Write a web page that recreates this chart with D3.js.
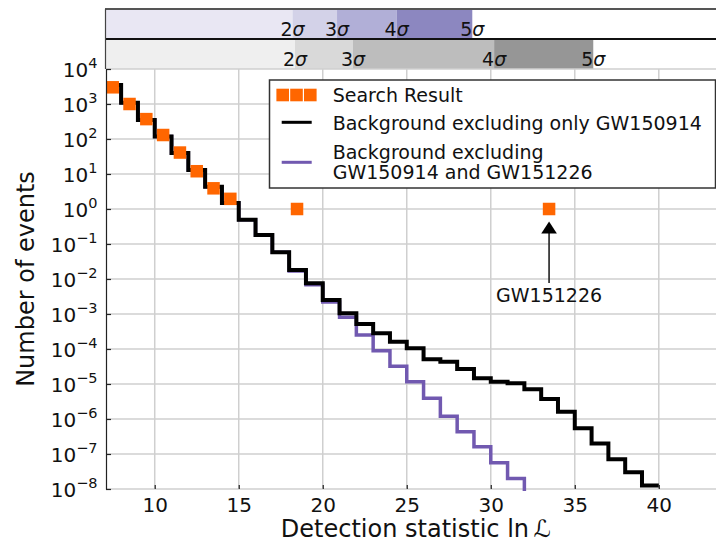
<!DOCTYPE html>
<html>
<head>
<meta charset="utf-8">
<script src="https://cdn.jsdelivr.net/npm/d3@7"></script>
<style>
  body { margin: 0; background: #fff; }
  svg { display: block; font-family: "DejaVu Sans", sans-serif; }
</style>
</head>
<body>
<svg id="chart" width="716" height="543"></svg>
<script>
// ---- data ----------------------------------------------------------------
// Background histogram excluding only GW150914: bin left edges and counts
const bgAllEdges = [7, 8, 9, 10, 11, 12, 13, 14, 15, 16, 17, 18, 19, 20, 21, 22, 23,
                    24, 25, 26, 27, 28, 29, 30, 31, 32, 33, 34, 35, 36, 37, 38, 39, 40];
const bgAllCounts = [3470, 1090, 350, 117, 40, 13, 4.3, 1.48, 0.49, 0.18, 0.058, 0.018,
                     0.0075, 0.0025, 0.00105, 5.2e-4, 2.8e-4, 1.6e-4, 1.05e-4, 5.1e-5,
                     4.3e-5, 2.7e-5, 1.46e-5, 1.16e-5, 1.05e-5, 7.1e-6, 3.7e-6, 1.6e-6,
                     5.4e-7, 2.0e-7, 7.1e-8, 3.0e-8, 1.26e-8];
// Background excluding GW150914 and GW151226 (last bin empty)
const bgBothEdges = [7, 8, 9, 10, 11, 12, 13, 14, 15, 16, 17, 18, 19, 20, 21, 22, 23,
                     24, 25, 26, 27, 28, 29, 30, 31, 32, 33];
const bgBothCounts = [3470, 1090, 350, 117, 40, 13, 4.3, 1.48, 0.49, 0.18, 0.058, 0.017,
                      0.0069, 0.0022, 8.1e-4, 2.5e-4, 8.9e-5, 3.2e-5, 1.16e-5, 3.9e-6,
                      1.2e-6, 4.3e-7, 1.6e-7, 5.6e-8, 2.0e-8, 0];
// Search result (foreground events)
const searchStat = [7.5, 8.5, 9.5, 10.5, 11.5, 12.5, 13.5, 14.5, 18.47, 33.47];
const searchCount = [3000, 1000, 370, 130, 41, 12, 3.9, 1.95, 1, 1];

// Significance thresholds in ln L
const sigmaLabels = ["2", "3", "4", "5"];
const sigmaBoth = [18.2, 20.85, 24.4, 28.9];   // upper band (purple)
const sigmaAll = [18.35, 21.8, 30.2, 36.1];    // lower band (grey)
const purpleShades = ["#e9e7f3", "#d3d2e8", "#b1afd7", "#8c87c0"];
const greyShades = ["#efefef", "#d9d9d9", "#bdbdbd", "#969696"];

const xTicks = [10, 15, 20, 25, 30, 35, 40];
const yExponents = [-8, -7, -6, -5, -4, -3, -2, -1, 0, 1, 2, 3, 4];

// ---- layout --------------------------------------------------------------
const L = 106, R = 726, T = 69, B = 489;
const svg = d3.select("#chart");

const x = d3.scaleLinear().domain([7.1, 44]).range([L, R]);
const y = d3.scaleLog().domain([1e-8, 1e4]).range([B, T]);
const yOf = v => (v > 0 ? y(v) : B + 20);

svg.append("defs").append("clipPath").attr("id", "plotClip")
  .append("rect").attr("x", L).attr("y", T - 2).attr("width", R - L).attr("height", B - T + 4);

// ---- significance bands --------------------------------------------------
function band(y0, h, thresholds, shades) {
  const g = svg.append("g");
  const starts = [x.domain()[0]].concat(thresholds);
  thresholds.forEach((t, i) => {
    g.append("rect")
      .attr("x", x(starts[i])).attr("y", y0)
      .attr("width", x(t) - x(starts[i])).attr("height", h)
      .attr("fill", shades[i]);
  });
  thresholds.forEach((t, i) => {
    const txt = g.append("text")
      .attr("x", x(t)).attr("y", y0 + h - 3)
      .attr("text-anchor", "middle")
      .attr("font-size", 19).attr("fill", "#111");
    txt.append("tspan").text(sigmaLabels[i]);
    txt.append("tspan").attr("font-style", "italic").text("σ");
  });
  return g;
}
band(9, 30, sigmaBoth, purpleShades);
band(39, 30, sigmaAll, greyShades);
svg.append("line").attr("x1", L - 1).attr("x2", 716).attr("y1", 9).attr("y2", 9)
  .attr("stroke", "#555").attr("stroke-width", 2);
svg.append("line").attr("x1", L - 1).attr("x2", 716).attr("y1", 39).attr("y2", 39)
  .attr("stroke", "#111").attr("stroke-width", 2);
svg.append("line").attr("x1", L - 0.5).attr("x2", L - 0.5).attr("y1", 9).attr("y2", 69)
  .attr("stroke", "#444").attr("stroke-width", 1.2);

// ---- grid ----------------------------------------------------------------
const grid = svg.append("g").attr("stroke", "#cfcfcf").attr("stroke-width", 1.5);
xTicks.forEach(t => grid.append("line")
  .attr("x1", x(t)).attr("x2", x(t)).attr("y1", T).attr("y2", B));
yExponents.forEach(e => grid.append("line")
  .attr("x1", L).attr("x2", R).attr("y1", y(Math.pow(10, e))).attr("y2", y(Math.pow(10, e))));

// ---- step lines ----------------------------------------------------------
function stepPoints(edges, counts) {
  const pts = counts.map((c, i) => [edges[i], c]);
  pts.push([edges[counts.length], counts[counts.length - 1]]);
  return pts;
}
const step = d3.line().x(d => x(d[0])).y(d => yOf(d[1])).curve(d3.curveStepAfter);
const plot = svg.append("g").attr("clip-path", "url(#plotClip)");

plot.append("path").datum(stepPoints(bgBothEdges, bgBothCounts))
  .attr("d", step).attr("fill", "none")
  .attr("stroke", "#7159b0").attr("stroke-width", 3.5);
plot.append("path").datum(stepPoints(bgAllEdges, bgAllCounts))
  .attr("d", step).attr("fill", "none")
  .attr("stroke", "#000").attr("stroke-width", 4);

// ---- search result markers ----------------------------------------------
const sq = 12.5;
plot.selectAll("rect.ev").data(searchStat).join("rect").attr("class", "ev")
  .attr("x", (d) => x(d) - sq / 2)
  .attr("y", (d, i) => y(searchCount[i]) - sq / 2)
  .attr("width", sq).attr("height", sq)
  .attr("fill", "#ff6600");

// ---- axes ----------------------------------------------------------------
const xAxis = svg.append("g").attr("transform", `translate(0,${B})`)
  .call(d3.axisBottom(x).tickValues(xTicks).tickSize(-4).tickSizeOuter(0));
xAxis.select(".domain").remove();
xAxis.selectAll(".tick line").attr("stroke", "#222").attr("stroke-width", 1.2);
xAxis.selectAll(".tick text").attr("y", 23).attr("dy", null)
  .attr("font-size", 20).attr("font-family", "DejaVu Sans").attr("fill", "#111");

const yAxis = svg.append("g").attr("transform", `translate(${L},0)`)
  .call(d3.axisLeft(y).tickValues(yExponents.map(e => Math.pow(10, e)))
    .tickSize(-5).tickSizeOuter(0).tickFormat(""));
yAxis.select(".domain").attr("stroke", "#222").attr("stroke-width", 1.2);
yAxis.selectAll(".tick line").attr("stroke", "#222").attr("stroke-width", 1.2);
yAxis.selectAll(".tick").each(function (d) {
  const e = Math.round(Math.log10(d));
  const t = d3.select(this).append("text")
    .attr("x", -8.5).attr("y", 7.5).attr("text-anchor", "end")
    .attr("fill", "#111").attr("font-size", 20).attr("font-family", "DejaVu Sans");
  t.append("tspan").text("10");
  t.append("tspan").attr("dy", -9).attr("font-size", 14.5)
    .text(e < 0 ? "\u2212" + (-e) : String(e));
});

svg.append("text").attr("transform", "translate(34,279) rotate(-90)")
  .attr("text-anchor", "middle").attr("font-size", 24).attr("fill", "#111")
  .text("Number of events");

const xl = svg.append("text").attr("x", 416).attr("y", 537)
  .attr("text-anchor", "middle").attr("font-size", 24).attr("fill", "#111");
xl.append("tspan").text("Detection statistic ln\u2009");
xl.append("tspan").attr("font-style", "italic").text("ℒ");

// ---- legend --------------------------------------------------------------
const lg = svg.append("g");
lg.append("rect").attr("x", 269.5).attr("y", 80).attr("width", 446).attr("height", 108)
  .attr("fill", "#fff").attr("stroke", "#333").attr("stroke-width", 1.5);
[282.7, 296.5, 310.3].forEach(cx => lg.append("rect")
  .attr("x", cx - 6.3).attr("y", 95 - 6.3).attr("width", 12.6).attr("height", 12.6)
  .attr("fill", "#ff6600"));
lg.append("line").attr("x1", 281.7).attr("x2", 311.7).attr("y1", 122.3).attr("y2", 122.3)
  .attr("stroke", "#000").attr("stroke-width", 3);
lg.append("line").attr("x1", 281.7).attr("x2", 311.7).attr("y1", 162.3).attr("y2", 162.3)
  .attr("stroke", "#7159b0").attr("stroke-width", 3);
const legendText = [
  ["Search Result", 101.7],
  ["Background excluding only GW150914", 129.5],
  ["Background excluding", 159.3],
  ["GW150914 and GW151226", 179.3]
];
legendText.forEach(([s, by]) => lg.append("text").attr("x", 332.7).attr("y", by)
  .attr("font-size", 19).attr("fill", "#111").text(s));

// ---- annotation for GW151226 --------------------------------------------
const ax = x(searchStat[9]), ay = y(searchCount[9]);
svg.append("line").attr("x1", ax).attr("x2", ax).attr("y1", ay + 74).attr("y2", ay + 24)
  .attr("stroke", "#222").attr("stroke-width", 1.6);
svg.append("path")
  .attr("d", `M${ax},${ay + 12.5} L${ax - 7.8},${ay + 24.5} L${ax + 7.8},${ay + 24.5} Z`)
  .attr("fill", "#000");
svg.append("text").attr("x", ax).attr("y", ay + 93).attr("text-anchor", "middle")
  .attr("font-size", 19).attr("fill", "#111").text("GW151226");
</script>
</body>
</html>
